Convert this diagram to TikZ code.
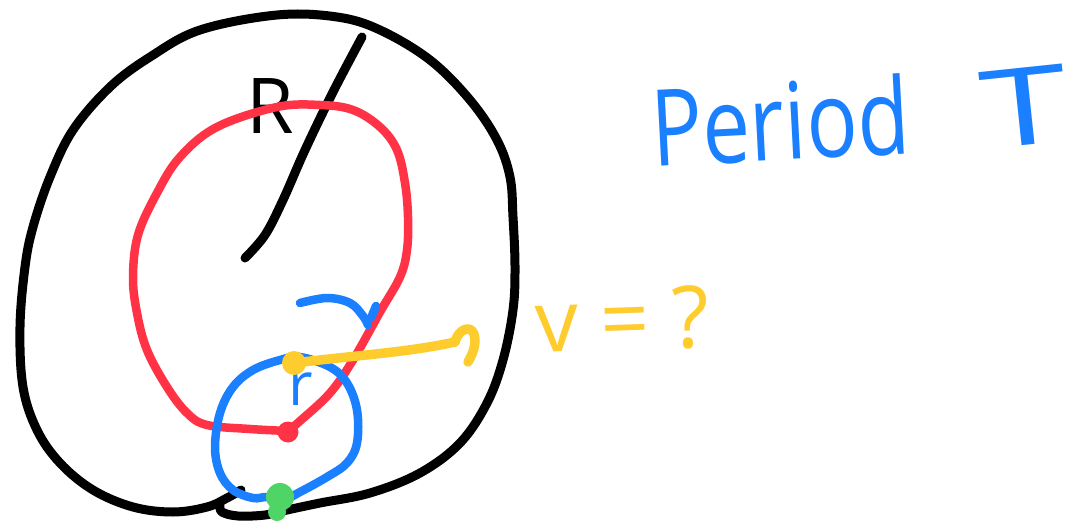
\documentclass[tikz,border=0pt]{standalone}
\usepackage{fontspec}
\setmainfont{Open Sans}
\definecolor{inkblack}{HTML}{000000}
\definecolor{inkred}{HTML}{FF3345}
\definecolor{inkblue}{HTML}{1A80FF}
\definecolor{inkyellow}{HTML}{FFCC2E}
\definecolor{inkgreen}{HTML}{4FD466}
\tikzset{
  pen/.style={line width=#1, line cap=round, line join=round},
  blackpen/.style={pen=9pt, draw=inkblack},
  redpen/.style={pen=8.5pt, draw=inkred},
  bluepen/.style={pen=8.5pt, draw=inkblue},
  yellowpen/.style={pen=9.5pt, draw=inkyellow},
  blob/.style={circle, inner sep=0pt, minimum size=#1},
  hand/.style={inner sep=0pt, font=\fontsize{#1}{#1}\selectfont},
}
\begin{document}
\begin{tikzpicture}[x=1pt,y=-1pt]
\useasboundingbox[fill=white] (0,0) rectangle (1091,529);

% outer black outline
\draw[blackpen] plot[smooth, tension=0.6] coordinates {
  (241,490) (227,498) (207,507) (173,512) (133,507) (93,490) (60,463) (37,430)
  (23,387) (20,327) (25,267) (33,227) (50,177) (73,130) (110,87) (150,57)
  (200,30) (277,15) (337,17) (380,30) (430,60) (470,100) (497,140) (510,177)
  (513,217) (515,267) (513,310) (503,360) (487,403) (460,443) (420,473)
  (370,493) (320,503) (287,510) (265,515) (238,516) (222,512) (220,505)};

% radius line
\draw[blackpen] plot[smooth, tension=0.6] coordinates {
  (362,37) (333,92) (305,150) (283,200) (265,235) (245,258)};
\node[hand=77, text=inkblack, anchor=base west] (Rlab) at (246,134) {R};

% red orbit
\draw[redpen] plot[smooth, tension=0.6] coordinates {
  (288,431) (250,429) (207,425) (187,413) (167,387) (147,350) (137,313)
  (133,277) (138,235) (157,193) (180,157) (217,127) (277,107) (320,105)
  (353,110) (380,127) (397,150) (405,183) (408,217) (407,250) (400,277)
  (380,312) (353,360) (330,393) (300,421) (288,431)};

% blue small circle
\draw[bluepen] plot[smooth cycle, tension=0.6] coordinates {
  (283,500) (267,497) (253,498) (233,490) (220,473) (215,447) (220,413)
  (233,387) (253,370) (280,360) (300,357) (330,367) (347,383) (357,410)
  (357,443) (347,463) (327,477) (300,492)};
% blue arc (rotation)
\draw[bluepen] plot[smooth, tension=0.6] coordinates {
  (300,303) (327,298) (350,303) (363,316) (368,325)};
\draw[bluepen] (376,306) -- (371,318);
\node[hand=60, text=inkblue, anchor=base west] (rlab) at (288,405) {r};

% red dot
\node[blob=21pt, fill=inkred] (rdot) at (288,432) {};

% yellow velocity arrow
\node[blob=24pt, fill=inkyellow] (ydot) at (294,363) {};
\coordinate (vtip) at (455,342);
\draw[yellowpen] (ydot.center) .. controls (360,355) and (410,352) .. (vtip);
\draw[yellowpen] (vtip) .. controls (458,330) and (470,324) .. (474,334)
  .. controls (477,345) and (472,355) .. (468,362);

% green dot
\node[blob=28pt, fill=inkgreen] (gdot) at (280,497) {};
\node[blob=18pt, fill=inkgreen] (gdot2) at (277,512) {};

% labels
\node[hand=86, text=inkyellow, anchor=base west, rotate=2] (vlab) at (536,353) {v = ?};
\node[hand=85, text=inkblue, anchor=base west, rotate=3, yscale=1.25] (period) at (653,167) {Period};
\node[hand=108, text=inkblue, anchor=base west, rotate=6, xscale=1.45] (Tlab) at (985,150) {T};
\end{tikzpicture}
\end{document}
